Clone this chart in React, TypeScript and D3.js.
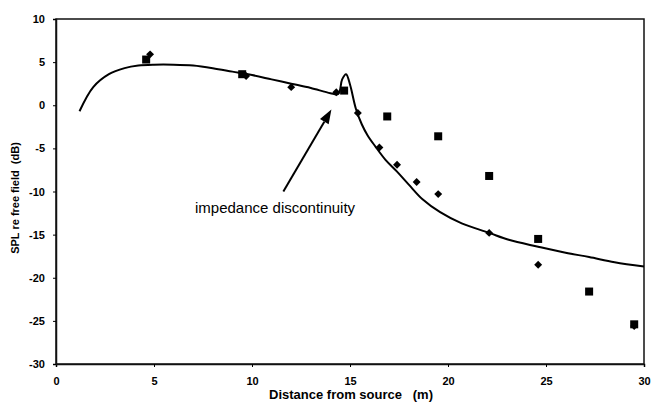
import { useEffect, useRef } from "react";
import * as d3 from "d3";

// chart size
const width = 652;
const height = 402;

// plot box in pixels
const plot = { left: 56, right: 644, top: 19, bottom: 364 };

// tick values
const xTicks = [0, 5, 10, 15, 20, 25, 30];
const yTicks = [10, 5, 0, -5, -10, -15, -20, -25, -30];

// measured, squares
const squareX = [4.6, 9.5, 14.7, 16.9, 19.5, 22.1, 24.6, 27.2, 29.5];
const squareY = [5.3, 3.6, 1.7, -1.3, -3.6, -8.2, -15.5, -21.6, -25.4];

// measured, diamonds
const diamondX = [4.8, 9.7, 12.0, 14.3, 15.4, 16.5, 17.4, 18.4, 19.5, 22.1, 24.6, 29.5];
const diamondY = [5.9, 3.4, 2.1, 1.5, -0.9, -4.9, -6.9, -8.9, -10.3, -14.8, -18.5, -25.6];

// predicted curve
const lineX = [1.2, 1.9, 2.7, 3.5, 4.2, 5.0, 6.0, 7.0, 8.0, 9.0, 10.0, 11.0, 12.0, 13.0, 14.0, 14.4, 14.6, 14.8, 15.0, 15.3, 15.6, 15.9, 16.3, 16.8, 17.4, 18.0, 18.7, 19.6, 20.7, 22.1, 23.1, 24.6, 26.0, 27.2, 28.5, 30.0];
const lineY = [-0.7, 2.1, 3.6, 4.3, 4.6, 4.7, 4.7, 4.6, 4.3, 3.9, 3.5, 3.0, 2.5, 2.0, 1.4, 1.3, 3.0, 3.6, 2.4, -0.4, -2.2, -3.5, -4.8, -6.3, -7.7, -9.2, -10.9, -12.4, -13.7, -14.8, -15.6, -16.4, -17.1, -17.6, -18.2, -18.7];

// annotation: arrow from tail to head, in data units
const arrowFrom = [11.6, -10.0];
const arrowTo = [14.05, -0.5];
const annotation = "impedance discontinuity";

const font = "'Liberation Sans', Arial, sans-serif";

export default function App() {
    const ref = useRef<SVGSVGElement>(null);

    useEffect(() => {
        const svg = d3.select(ref.current);
        svg.selectAll("*").remove();

        const x = d3.scaleLinear().domain([0, 30]).range([plot.left, plot.right]);
        const y = d3.scaleLinear().domain([-30, 10]).range([plot.bottom, plot.top]);

        // frame
        svg.append("rect")
            .attr("x", plot.left)
            .attr("y", plot.top)
            .attr("width", plot.right - plot.left)
            .attr("height", plot.bottom - plot.top)
            .attr("fill", "none")
            .attr("stroke", "#111")
            .attr("stroke-width", 1.5);

        // x axis
        const xAxis = svg.append("g")
            .attr("transform", `translate(0,${plot.bottom})`)
            .call(d3.axisBottom(x).tickValues(xTicks).tickSize(3).tickPadding(10).tickFormat(d => String(d)));
        xAxis.select(".domain").attr("stroke", "#111").attr("stroke-width", 1.5);
        xAxis.selectAll("text").attr("font-family", font).attr("font-size", 11).attr("font-weight", "bold").attr("fill", "#000");

        // y axis
        const yAxis = svg.append("g")
            .attr("transform", `translate(${plot.left},0)`)
            .call(d3.axisLeft(y).tickValues(yTicks).tickSize(3).tickPadding(8).tickFormat(d => String(d)));
        yAxis.select(".domain").attr("stroke", "#111").attr("stroke-width", 1.5);
        yAxis.selectAll("text").attr("font-family", font).attr("font-size", 11).attr("font-weight", "bold").attr("fill", "#000");

        // axis titles
        svg.append("text")
            .attr("x", 351)
            .attr("y", 399)
            .attr("text-anchor", "middle")
            .attr("font-family", font)
            .attr("font-weight", "bold")
            .attr("font-size", 13)
            .attr("xml:space", "preserve")
            .text("Distance from source   (m)");

        svg.append("text")
            .attr("transform", "translate(19,198) rotate(-90)")
            .attr("text-anchor", "middle")
            .attr("font-family", font)
            .attr("font-weight", "bold")
            .attr("font-size", 11)
            .attr("xml:space", "preserve")
            .text("SPL re free field  (dB)");

        // predicted curve
        const lineData = lineX.map((v, i) => [v, lineY[i]] as [number, number]);
        const line = d3.line<[number, number]>()
            .x(d => x(d[0]))
            .y(d => y(d[1]))
            .curve(d3.curveCatmullRom.alpha(0.5));
        svg.append("path")
            .datum(lineData)
            .attr("d", line)
            .attr("fill", "none")
            .attr("stroke", "#000")
            .attr("stroke-width", 2);

        // squares
        svg.append("g")
            .selectAll("rect")
            .data(squareX.map((v, i) => [v, squareY[i]]))
            .join("rect")
            .attr("x", d => x(d[0]) - 4)
            .attr("y", d => y(d[1]) - 4)
            .attr("width", 8)
            .attr("height", 8)
            .attr("fill", "#000");

        // diamonds
        const diamond = d3.symbol().type(d3.symbolDiamond2).size(40);
        svg.append("g")
            .selectAll("path")
            .data(diamondX.map((v, i) => [v, diamondY[i]]))
            .join("path")
            .attr("transform", d => `translate(${x(d[0])},${y(d[1])})`)
            .attr("d", diamond)
            .attr("fill", "#000");

        // annotation arrow
        const x1 = x(arrowFrom[0]), y1 = y(arrowFrom[1]);
        const x2 = x(arrowTo[0]), y2 = y(arrowTo[1]);
        const ang = Math.atan2(y2 - y1, x2 - x1);
        const headLen = 14, headW = 5;
        const bx = x2 - headLen * Math.cos(ang), by = y2 - headLen * Math.sin(ang);
        svg.append("line")
            .attr("x1", x1).attr("y1", y1)
            .attr("x2", bx).attr("y2", by)
            .attr("stroke", "#000")
            .attr("stroke-width", 2);
        svg.append("path")
            .attr("d", `M${x2},${y2}L${bx + headW * Math.sin(ang)},${by - headW * Math.cos(ang)}L${bx - headW * Math.sin(ang)},${by + headW * Math.cos(ang)}Z`)
            .attr("fill", "#000");

        svg.append("text")
            .attr("x", 195)
            .attr("y", 213)
            .attr("font-family", font)
            .attr("font-size", 15)
            .attr("fill", "#000")
            .text(annotation);
    }, []);

    return (
        <svg
            ref={ref}
            width={width}
            height={height}
            style={{ position: "fixed", left: 0, top: 0, background: "#fff" }}
        />
    );
}
